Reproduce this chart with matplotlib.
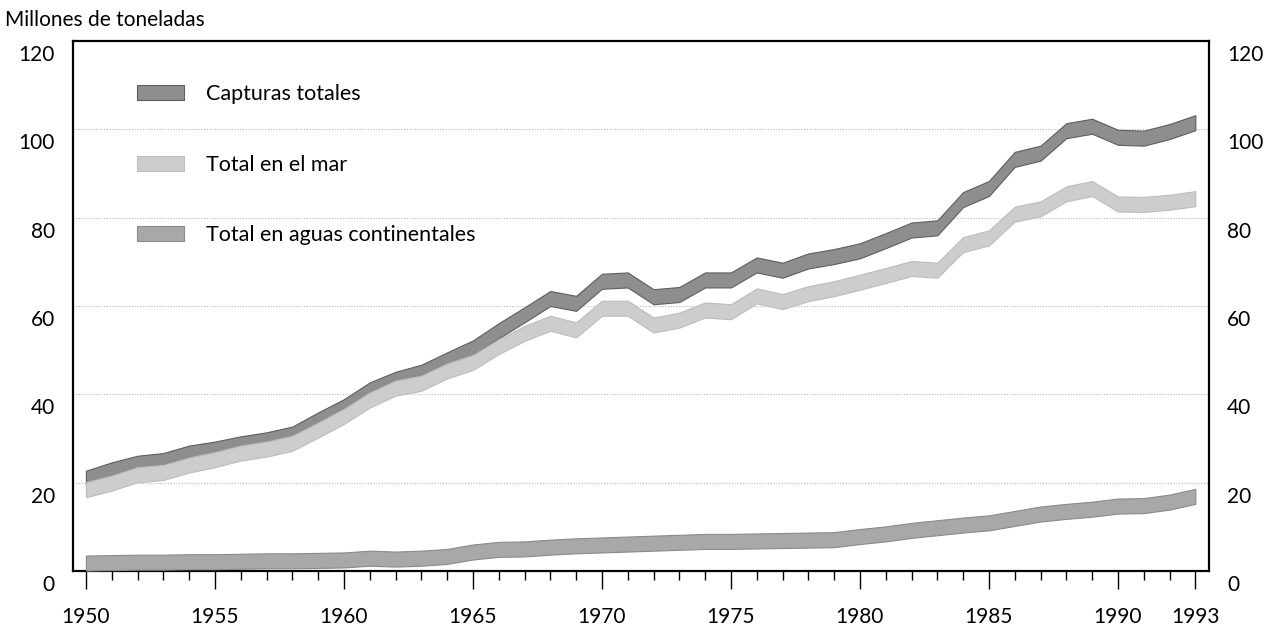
import numpy as np
import matplotlib
matplotlib.use('Agg')
import matplotlib.pyplot as plt
from matplotlib.patches import Patch
from matplotlib.transforms import ScaledTranslation

plt.rcParams['font.family'] = ['Lato', 'DejaVu Sans']

years = np.arange(1950, 1994)

# millones de toneladas (borde superior de cada banda)
capturas_totales = [22.7, 24.6, 26.1, 26.7, 28.4, 29.3, 30.5, 31.4, 32.7, 35.9,
                    38.9, 42.7, 45.1, 46.7, 49.5, 52.2, 56.1, 59.7, 63.4, 62.3,
                    67.3, 67.6, 63.8, 64.3, 67.6, 67.6, 71.0, 69.8, 71.9, 72.9,
                    74.2, 76.5, 78.9, 79.4, 85.8, 88.3, 94.9, 96.3, 101.4, 102.4,
                    99.9, 99.7, 101.2, 103.2]
total_mar = [20.1, 21.6, 23.5, 24.0, 25.7, 26.9, 28.4, 29.3, 30.6, 33.6,
             36.7, 40.4, 43.1, 44.2, 47.0, 48.9, 52.5, 55.5, 57.8, 56.3,
             61.2, 61.2, 57.4, 58.5, 60.8, 60.4, 64.0, 62.7, 64.5, 65.6,
             67.1, 68.6, 70.2, 69.8, 75.6, 77.1, 82.5, 83.7, 87.1, 88.3,
             84.8, 84.7, 85.2, 86.0]
aguas_continentales = [3.5, 3.6, 3.7, 3.7, 3.8, 3.8, 3.9, 4.0, 4.0, 4.1,
                       4.2, 4.6, 4.4, 4.6, 5.0, 6.0, 6.6, 6.7, 7.1, 7.4,
                       7.6, 7.8, 8.0, 8.2, 8.4, 8.4, 8.5, 8.6, 8.7, 8.8,
                       9.5, 10.1, 10.9, 11.5, 12.1, 12.6, 13.6, 14.6, 15.2, 15.7,
                       16.4, 16.5, 17.3, 18.6]

labels = ['Capturas totales', 'Total en el mar', 'Total en aguas continentales']
colors = ['#8e8e8e', '#cdcdcd', '#a8a8a8']
edges = ['#5e5e5e', '#bdbdbd', '#8a8a8a']

year_ticks = [1950, 1955, 1960, 1965, 1970, 1975, 1980, 1985, 1990, 1993]
y_ticks = [0, 20, 40, 60, 80, 100, 120]

band = 3.4

fig = plt.figure(figsize=(12.78, 6.26), dpi=100)
ax = fig.add_axes([73 / 1278, 55 / 626, 1136 / 1278, 530 / 626])

series = [capturas_totales, total_mar, aguas_continentales]
for i, s in enumerate(series):
    s = np.array(s)
    ax.fill_between(years, s - band, s, facecolor=colors[i], edgecolor=edges[i],
                    linewidth=0.8, zorder=2 + i)

ax.set_xlim(1949.5, 1993.53)
ax.set_ylim(0, 120)

for v in y_ticks[1:-1]:
    ax.axhline(v, color='#b5b5b5', lw=0.8, ls=(0, (1, 1.5)), zorder=1)

ax.set_xticks(year_ticks)
ax.set_xticks(years, minor=True)
ax.tick_params(axis='x', which='major', direction='out', length=13, width=1,
               pad=13, labelsize=15)
ax.tick_params(axis='x', which='minor', direction='out', length=6.5, width=1)

ax.set_yticks(y_ticks)
ax.tick_params(axis='y', length=0, pad=13, labelsize=15, labelright=True)
# las etiquetas del eje y quedan un poco por debajo de su linea
off = ScaledTranslation(0, -0.12, fig.dpi_scale_trans)
for t in ax.yaxis.get_major_ticks():
    t.label1.set_transform(t.label1.get_transform() + off)
    t.label2.set_transform(t.label2.get_transform() + off)

for sp in ax.spines.values():
    sp.set_linewidth(1.6)
    sp.set_color('black')

handles = [Patch(facecolor=colors[i], edgecolor=edges[i], linewidth=0.8)
           for i in range(3)]
ax.legend(handles, labels, loc='upper left',
          bbox_to_anchor=(137 / 1278, 1 - 84 / 626), bbox_transform=fig.transFigure,
          frameon=False, borderpad=0, borderaxespad=0, fontsize=15.5,
          handlelength=2.2, handleheight=0.7, handletextpad=1.0, labelspacing=2.35)

fig.text(5 / 1278, 1 - 20 / 626, 'Millones de toneladas', fontsize=15, va='center')

fig.savefig('out.png', dpi=100)
